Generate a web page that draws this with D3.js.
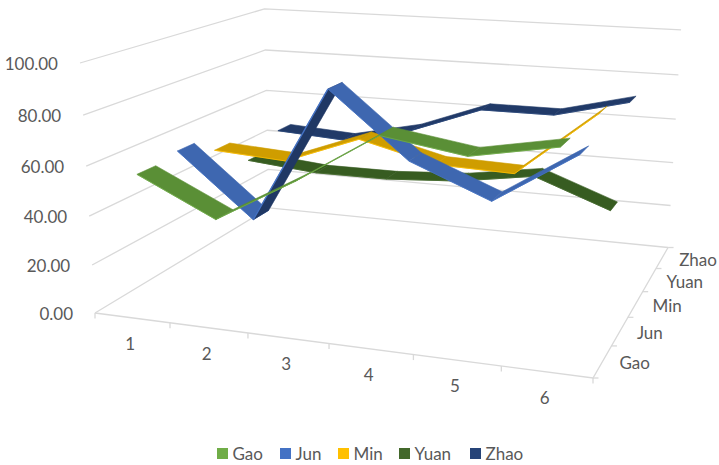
<!DOCTYPE html>
<html>
<head>
<meta charset="utf-8">
<script src="https://cdn.jsdelivr.net/npm/d3@7"></script>
<style>
  html, body { margin: 0; padding: 0; background: #fff; }
  text { font-family: Lato, "Open Sans", sans-serif; fill: #595959; }
</style>
</head>
<body>
<svg id="chart" width="719" height="465"></svg>
<script>
// Chart data
const categories = ["1", "2", "3", "4", "5", "6"];
const seriesNames = ["Gao", "Jun", "Min", "Yuan", "Zhao"];
const gao  = [56, 41, 59, 79, 74, 80];
const jun  = [58, 32, 88, 62, 49, 70];
const min  = [51, 49, 61, 53, 52, 79];
const yuan = [39, 36, 36, 38, 43, 31];
const zhao = [46, 44, 51, 63, 63, 71];
const seriesValues = [gao, jun, min, yuan, zhao];
const valueTicks = [0, 20, 40, 60, 80, 100];

// Ribbon colours: legend swatch / upper face / under face
const legendColors = ["#70ad47", "#4472c4", "#ffc000", "#43682b", "#264478"];
const topColors    = ["#5a8f36", "#3e67b0", "#cf9d00", "#375c21", "#213a68"];
const underColors  = ["#4c7a2d", "#203864", "#c49400", "#2c4a1a", "#1b2f55"];

// Unit-cube coordinates along each chart axis
const uScale = d3.scaleBand().domain(categories).range([0, 1]);
const vScale = d3.scaleBand().domain(seriesNames).range([0, 1])
  .paddingInner(0.55).paddingOuter(0.275);
const wScale = d3.scaleLinear().domain([0, 100]).range([0, 1]);

// Perspective camera: maps the unit cube onto the page
const cam = {
  o: [95, 313],
  xa: [430.7, 22.1], ya: [246.5, -49], za: [-19, -253.15],
  l: -0.1135, m: 0.2694, n: -0.05
};
function project(u, v, w) {
  const d = 1 + cam.l * u + cam.m * v + cam.n * w;
  return [
    (cam.o[0] + cam.xa[0] * u + cam.ya[0] * v + cam.za[0] * w) / d,
    (cam.o[1] + cam.xa[1] * u + cam.ya[1] * v + cam.za[1] * w) / d
  ];
}

const svg = d3.select("#chart");
const line = d3.line();
const closed = d3.line().curve(d3.curveLinearClosed);

// Walls: value gridlines run along the left wall and then the back wall
const gridG = svg.append("g").attr("fill", "none")
  .attr("stroke", "#d9d9d9").attr("stroke-width", 1.3);
valueTicks.forEach(t => {
  const w = wScale(t);
  gridG.append("path").attr("d", line([project(0, 0, w), project(0, 1, w), project(1, 1, w)]));
});

// Floor edges and tick marks
const axisG = svg.append("g").attr("fill", "none")
  .attr("stroke", "#d9d9d9").attr("stroke-width", 1.3);
axisG.append("path").attr("d", line([project(0, 0, 0), project(1, 0, 0), project(1, 1, 0)]));
d3.range(categories.length + 1).forEach(i => {
  const p = project(i / categories.length, 0, 0);
  axisG.append("path").attr("d", line([p, [p[0], p[1] + 5.5]]));
});
d3.range(seriesNames.length + 1).forEach(i => {
  const p = project(1, i / seriesNames.length, 0);
  axisG.append("path").attr("d", line([p, [p[0] + 5.5, p[1]]]));
});

// Ribbons, painted from the back row to the front row
const bw = vScale.bandwidth();
const catCentre = c => uScale(c) + uScale.bandwidth() / 2;

seriesNames.map((s, i) => i).reverse().forEach(i => {
  const g = svg.append("g").attr("class", "ribbon");
  const v0 = vScale(seriesNames[i]);
  const v1 = v0 + bw;
  const values = seriesValues[i];
  d3.pairs(categories.map((c, k) => ({ u: catCentre(c), w: wScale(values[k]) })))
    .forEach(([a, b]) => {
      const quad = [
        project(a.u, v0, a.w), project(b.u, v0, b.w),
        project(b.u, v1, b.w), project(a.u, v1, a.w)
      ];
      // The sign of the screen area tells which side of the ribbon faces the viewer
      const under = d3.polygonArea(quad) < 0;
      g.append("path").attr("d", closed(quad))
        .attr("fill", under ? underColors[i] : topColors[i])
        .attr("stroke", under ? underColors[i] : topColors[i])
        .attr("stroke-width", 0.6)
        .attr("stroke-linejoin", "round");
      // Bright lip on the front edge of the ribbon
      g.append("path").attr("d", line([quad[0], quad[1]]))
        .attr("fill", "none")
        .attr("stroke", legendColors[i])
        .attr("stroke-width", under ? 1.4 : 0.8);
    });
});

// Value labels
const fontSize = 17;
svg.append("g").selectAll("text").data(valueTicks).join("text")
  .attr("font-size", fontSize)
  .attr("text-anchor", "end")
  .attr("dominant-baseline", "central")
  .attr("x", d => project(0, 0, wScale(d))[0] - 22)
  .attr("y", d => project(0, 0, wScale(d))[1] + 0.5)
  .text(d => d3.format(".2f")(d));

// Category labels below the front edge
svg.append("g").selectAll("text").data(categories).join("text")
  .attr("font-size", fontSize)
  .attr("text-anchor", "middle")
  .attr("dominant-baseline", "central")
  .attr("x", d => project(catCentre(d), 0, 0)[0] - 2)
  .attr("y", d => project(catCentre(d), 0, 0)[1] + 25.5)
  .text(d => d);

// Series labels beside the right floor edge
svg.append("g").selectAll("text").data(seriesNames).join("text")
  .attr("font-size", fontSize)
  .attr("dominant-baseline", "central")
  .attr("x", d => project(1, vScale(d) + bw / 2, 0)[0] + 17)
  .attr("y", d => project(1, vScale(d) + bw / 2, 0)[1] + 1.5)
  .text(d => d);

// Legend
const legendX = [217, 280, 338, 399, 470];
const legend = svg.append("g").selectAll("g").data(seriesNames).join("g")
  .attr("transform", (d, i) => `translate(${legendX[i]},448)`);
legend.append("rect").attr("width", 11).attr("height", 11)
  .attr("fill", (d, i) => legendColors[i]);
legend.append("text").attr("x", 15.5).attr("y", 11.5)
  .attr("font-size", fontSize).text(d => d);
</script>
</body>
</html>
